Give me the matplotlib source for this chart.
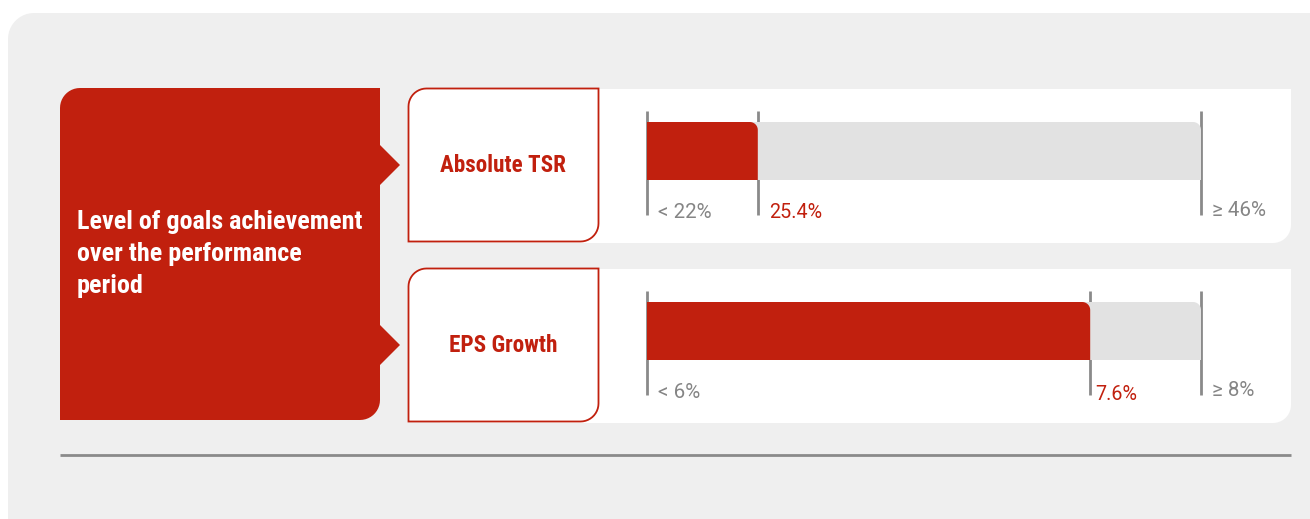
import numpy as np
import matplotlib.pyplot as plt
from matplotlib.patches import Polygon

# data
metrics = ['Absolute TSR', 'EPS Growth']
low_labels = ['< 22%', '< 6%']
high_labels = ['\u2265 46%', '\u2265 8%']
actual_labels = ['25.4%', '7.6%']
fill_share = [20, 80]  # share of the scale reached (%)
title = 'Level of goals achievement\nover the performance\nperiod'

RED = '#c1200e'
GREY_BG = '#efefef'
TRACK = '#e2e2e2'
TICK = '#8a8a8a'
COND = ['Liberation Sans Narrow', 'Roboto Condensed', 'DejaVu Sans']


def rpath(x0, x1, yt, yb, rx, ry, corners):
    # rounded rectangle outline, only the corners listed get arcs
    sy = 1 if yb > yt else -1
    t = np.linspace(0, np.pi / 2, 12)
    pts = []
    if 'tl' in corners:
        cx, cy = x0 + rx, yt + sy * ry
        pts += list(zip(cx - rx * np.cos(t), cy - sy * ry * np.sin(t)))
    else:
        pts.append((x0, yt))
    if 'tr' in corners:
        cx, cy = x1 - rx, yt + sy * ry
        pts += list(zip(cx + rx * np.sin(t), cy - sy * ry * np.cos(t)))
    else:
        pts.append((x1, yt))
    if 'br' in corners:
        cx, cy = x1 - rx, yb - sy * ry
        pts += list(zip(cx + rx * np.cos(t), cy + sy * ry * np.sin(t)))
    else:
        pts.append((x1, yb))
    if 'bl' in corners:
        cx, cy = x0 + rx, yb - sy * ry
        pts += list(zip(cx - rx * np.sin(t), cy + sy * ry * np.cos(t)))
    else:
        pts.append((x0, yb))
    return pts


W, H = 1310, 519
fig = plt.figure(figsize=(W / 100, H / 100), dpi=100, facecolor='white')
ax = fig.add_axes([0, 0, 1, 1])
ax.set_xlim(0, W)
ax.set_ylim(H, 0)
ax.axis('off')

# grey card
ax.add_patch(Polygon(rpath(8, W + 40, 13, H + 40, 26, 26, ['tl']),
                     closed=True, fc=GREY_BG, ec='none'))

# red title block + arrows
ax.add_patch(Polygon(rpath(60, 380, 88, 420, 20, 20, ['tl', 'br']),
                     closed=True, fc=RED, ec='none'))
ax.text(77, 254, title, color='white', fontsize=18.8, fontweight='bold',
        family=COND, va='center', ha='left', linespacing=1.40)

row_top = [88, 268]
for i, name in enumerate(metrics):
    top = row_top[i]
    bot = top + 154
    mid = top + 77
    ax.add_patch(Polygon([(380, mid - 20), (400, mid), (380, mid + 20)],
                         closed=True, fc=RED, ec='none'))
    # white panel
    ax.add_patch(Polygon(rpath(440, 1291, top + 1, bot + 1, 18, 18, ['br']),
                         closed=True, fc='white', ec='none'))
    # label box
    ax.add_patch(Polygon(rpath(408.5, 598.5, top + 0.5, bot - 0.5, 18, 18, ['tl', 'br']),
                         closed=True, fc='white', ec=RED, lw=1.3))
    ax.text(503, mid, name, color=RED, fontsize=16.7, fontweight='bold',
            family=COND, ha='center', va='center')

    # bar axes: scale 0..100 spans low threshold to high threshold
    bx0, bx1 = 647, 1201
    byt, byb = top + 34, top + 92
    bax = fig.add_axes([bx0 / W, 1 - byb / H, (bx1 - bx0) / W, (byb - byt) / H])
    bax.set_xlim(0, 100)
    bax.set_ylim(0, 1)
    bax.axis('off')
    rx = 8 * 100 / (bx1 - bx0)
    ry = 8 / (byb - byt)
    bax.add_patch(Polygon(rpath(0, 100, 1, 0, rx, ry, ['tr']),
                          closed=True, fc=TRACK, ec='none'))
    bax.add_patch(Polygon(rpath(0, fill_share[i], 1, 0, rx, ry, ['tr']),
                          closed=True, fc=RED, ec='none'))

    # threshold ticks in main axes, positioned from the same scale
    def sx(v):
        return bx0 + v / 100 * (bx1 - bx0)
    for v in [0, fill_share[i], 100]:
        ax.plot([sx(v), sx(v)], [top + 23, top + 127], color=TICK, lw=2,
                solid_capstyle='butt')
    ax.text(sx(0) + 11, top + 130, low_labels[i], color='#858585', fontsize=14.8,
            family='Roboto', ha='left', va='baseline')
    ax.text(sx(100) + 11, top + 128, high_labels[i], color='#858585', fontsize=14.8,
            family='Roboto', ha='left', va='baseline')
    if i == 0:
        ax.text(sx(fill_share[i]) + 11, top + 130.5, actual_labels[i],
                color=RED, fontsize=14.2, family='Roboto', ha='left', va='baseline')
    else:
        ax.text(sx(fill_share[i]) + 5, top + 131.5, actual_labels[i],
                color=RED, fontsize=14.2, family='Roboto', ha='left', va='baseline')

# divider line
ax.plot([60, 1291], [455, 455], color=TICK, lw=2, solid_capstyle='butt')

fig.savefig('out.png', dpi=100, facecolor='white')
